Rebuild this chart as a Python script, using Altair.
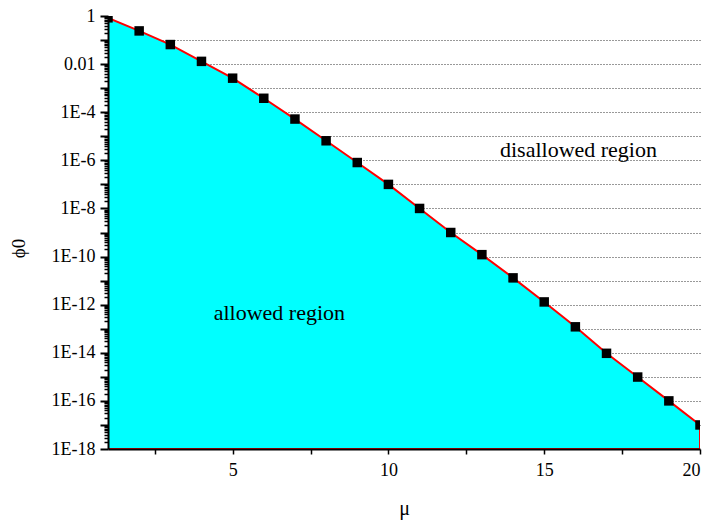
import altair as alt
import pandas as pd

# ---- data ----
mu = list(range(1, 21))
phi0 = [0.84, 0.24, 0.065, 0.013, 2.6e-3, 3.8e-4, 5.2e-5, 6.5e-6, 8.1e-7, 1.0e-7,
        1.0e-8, 1.0e-9, 1.2e-10, 1.3e-11, 1.3e-12, 1.2e-13, 9.5e-15, 9.8e-16, 1.0e-16, 1.0e-17]

y_decades = [1, 1e-1, 1e-2, 1e-3, 1e-4, 1e-5, 1e-6, 1e-7, 1e-8, 1e-9, 1e-10, 1e-11,
             1e-12, 1e-13, 1e-14, 1e-15, 1e-16, 1e-17, 1e-18]
y_tick_labels = ["1", "0.01", "1E-4", "1E-6", "1E-8", "1E-10", "1E-12", "1E-14", "1E-16", "1E-18"]
y_grid = [1e-1, 1e-2, 1e-3, 1e-4, 1e-5, 1e-6, 1e-7, 1e-8, 1e-9, 1e-10, 1e-11,
          1e-12, 1e-13, 1e-14, 1e-15, 1e-16, 1e-17]
y_minor = [m * d for d in y_decades[1:] for m in range(2, 10)]

x_ticks = [2.5, 5, 7.5, 10, 12.5, 15, 17.5, 20]

ann_text = ["allowed region", "disallowed region"]
ann_mu = [6.5, 16.1]
ann_phi = [4.5e-13, 2.6e-6]

baseline = 1e-18

df = pd.DataFrame({"mu": mu, "phi0": phi0, "base": [baseline] * len(mu)})
ann = pd.DataFrame({"mu": ann_mu, "phi0": ann_phi, "text": ann_text})

FONT = "'Liberation Serif', 'DejaVu Serif', serif"
yscale = alt.Scale(type="log", domain=[1e-18, 1], nice=False)
xscale = alt.Scale(domain=[1, 20], nice=False, zero=False)
labels_js = "[" + ",".join("'%s'" % s for s in y_tick_labels) + "]"

x_enc = alt.X("mu:Q", scale=xscale, title="μ",
              axis=alt.Axis(values=x_ticks, grid=False, tickSize=5, tickWidth=1.5,
                            tickColor="black", domainColor="black", domainWidth=2,
                            labelExpr="datum.value % 5 == 0 ? '' + datum.value : ''",
                            labelFont=FONT, labelFontSize=18, labelColor="black",
                            labelPadding=7, titleFont=FONT, titleFontSize=20,
                            titleFontWeight="normal", titleColor="black",
                            titlePadding=19, zindex=1))

base = alt.Chart(df)

area = base.mark_area(color="#00FFFF", stroke="#FF0000", strokeWidth=2, clip=True).encode(
    x=x_enc,
    y=alt.Y("phi0:Q", scale=yscale, title=None,
            axis=alt.Axis(orient="left", values=y_grid, grid=True, gridDash=[1, 2],
                          gridColor="#333333", gridWidth=1, gridOpacity=1,
                          ticks=False, labels=False, domain=False, zindex=0)),
    y2="base:Q",
)

points = base.mark_square(size=90, color="black", opacity=1, clip=True).encode(
    x=x_enc,
    y=alt.Y("phi0:Q", scale=yscale, title="ϕ0",
            axis=alt.Axis(orient="left", values=y_decades, grid=False, tickSize=8,
                          tickWidth=2, tickColor="black", domainColor="black",
                          domainWidth=2,
                          labelExpr="round(-log(datum.value)/LN10) % 2 == 0 ? "
                                    + labels_js + "[round(-log(datum.value)/LN10/2)] : ''",
                          labelFont=FONT, labelFontSize=18, labelColor="black",
                          labelPadding=5, titleFont=FONT, titleFontSize=19,
                          titleFontWeight="normal", titleColor="black",
                          titleX=-90, titleY=232, titleAngle=-90,
                          titleBaseline="middle", titleAlign="center", zindex=1)),
)

minor = base.mark_point(opacity=0).encode(
    x=x_enc,
    y=alt.Y("phi0:Q", scale=yscale, title=None,
            axis=alt.Axis(orient="left", values=y_minor, grid=False, tickSize=4,
                          tickWidth=1.5, tickColor="black", labels=False, domain=False,
                          zindex=1)),
)

text = alt.Chart(ann).mark_text(font=FONT, fontSize=22, color="black").encode(
    x=x_enc,
    y=alt.Y("phi0:Q", scale=yscale, axis=None),
    text="text:N",
)

chart = alt.layer(area, points, minor, text).resolve_axis(y="independent").resolve_scale(
    y="shared"
).properties(
    width=592, height=433,
    autosize=alt.AutoSizeParams(type="none"),
    padding={"left": 100, "top": 8, "right": 3, "bottom": 72},
).configure_view(stroke=None)

chart.save("out.html", embed_options={"renderer": "svg", "actions": False})
